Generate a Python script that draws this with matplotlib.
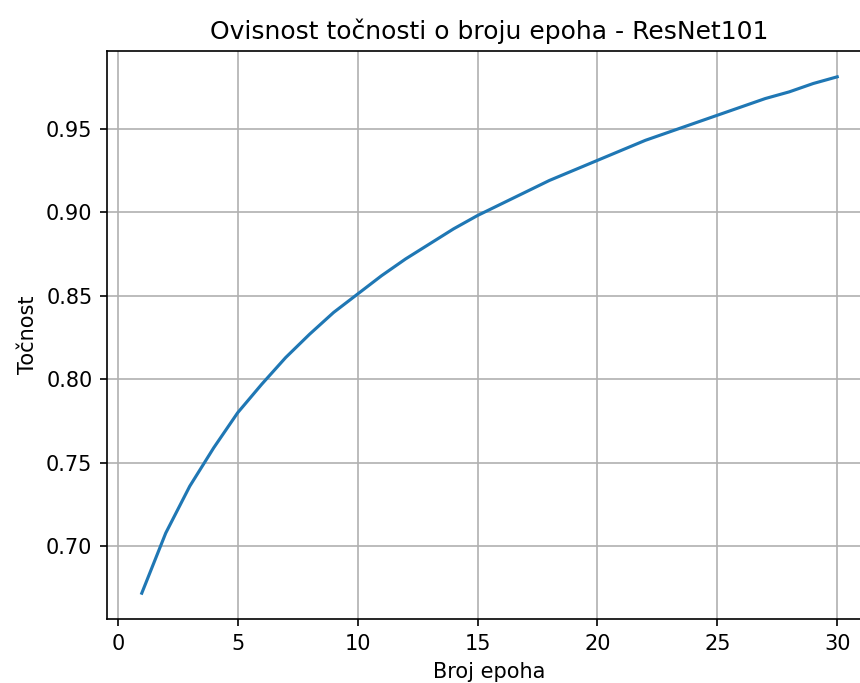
import matplotlib
matplotlib.use('Agg')
import matplotlib.pyplot as plt

# Epochs and accuracy values
epochs = list(range(1, 31))
accuracy = [0.672, 0.708, 0.736, 0.759, 0.780, 0.797, 0.813, 0.827, 0.840, 0.851,
            0.862, 0.872, 0.881, 0.890, 0.898, 0.905, 0.912, 0.919, 0.925, 0.931,
            0.937, 0.943, 0.948, 0.953, 0.958, 0.963, 0.968, 0.972, 0.977, 0.981]

dpi = 150
fig = plt.figure(figsize=(860 / dpi, 683 / dpi), dpi=dpi)
# axes placed so the right spine falls just outside the picture, as in the reference
ax = fig.add_axes([107 / 860, 64 / 683, 765 / 860, 568 / 683])

ax.plot(epochs, accuracy)

ax.set_title('Ovisnost točnosti o broju epoha - ResNet101')
ax.set_xlabel('Broj epoha')
ax.set_ylabel('Točnost')
ax.grid(True)

fig.savefig('out.png', dpi=dpi)
